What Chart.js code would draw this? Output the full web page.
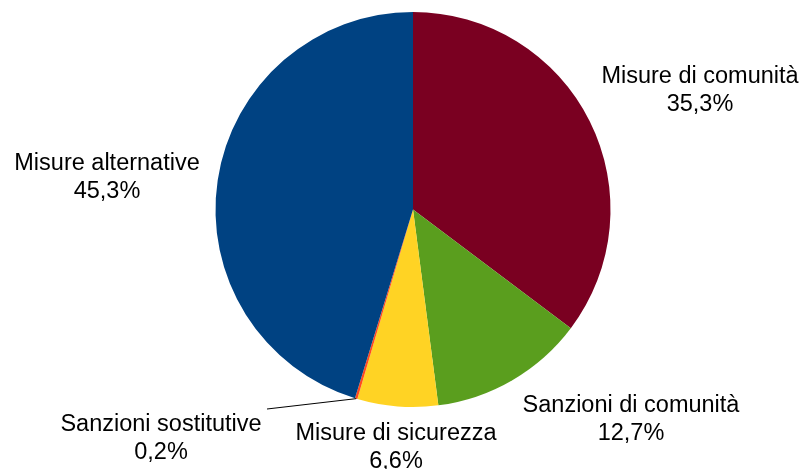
<!DOCTYPE html>
<html>
<head>
<meta charset="utf-8">
<script src="https://cdn.jsdelivr.net/npm/chart.js@4/dist/chart.umd.min.js"></script>
<style>
  html, body { margin: 0; padding: 0; background: #fff; }
  #wrap { width: 806px; height: 469px; }
</style>
</head>
<body>
<div id="wrap"><canvas id="pie"></canvas></div>
<script>
// Data
const categories = ['Misure di comunità', 'Sanzioni di comunità', 'Misure di sicurezza', 'Sanzioni sostitutive', 'Misure alternative'];
const values = [35.3, 12.7, 6.6, 0.2, 45.3];
const valueLabels = ['35,3%', '12,7%', '6,6%', '0,2%', '45,3%'];
const colors = ['#7a0021', '#5a9e1e', '#ffd324', '#ff4a1f', '#004282'];

// label anchors: centre x, first baseline y
const labelPos = [
    { x: 700, y: 83 },
    { x: 631, y: 412 },
    { x: 396, y: 440 },
    { x: 161, y: 431, leader: { x: 267, y: 409 } },
    { x: 107, y: 170 }
];

const outsideLabels = {
    id: 'outsideLabels',
    afterDraw(chart) {
        const ctx = chart.ctx;
        const arcs = chart.getDatasetMeta(0).data;
        ctx.save();
        ctx.font = '23.5px "Liberation Sans", Arial, sans-serif';
        ctx.fillStyle = '#000';
        ctx.textAlign = 'center';
        ctx.textBaseline = 'alphabetic';
        labelPos.forEach((p, i) => {
            ctx.fillText(categories[i], p.x, p.y);
            ctx.fillText(valueLabels[i], p.x, p.y + 28);
            if (p.leader) {
                const a = arcs[i];
                const mid = (a.startAngle + a.endAngle) / 2;
                ctx.beginPath();
                ctx.strokeStyle = '#000';
                ctx.lineWidth = 1;
                ctx.moveTo(p.leader.x, p.leader.y);
                ctx.lineTo(a.x + Math.cos(mid) * a.outerRadius, a.y + Math.sin(mid) * a.outerRadius);
                ctx.stroke();
            }
        });
        ctx.restore();
    }
};

new Chart(document.getElementById('pie'), {
    type: 'pie',
    data: {
        labels: categories,
        datasets: [{
            data: values,
            backgroundColor: colors,
            borderWidth: 0
        }]
    },
    options: {
        responsive: true,
        maintainAspectRatio: false,
        animation: false,
        layout: {
            padding: { top: 12, bottom: 62, left: 215.5, right: 195.5 }
        },
        plugins: {
            legend: { display: false },
            tooltip: { enabled: false }
        }
    },
    plugins: [outsideLabels]
});
</script>
</body>
</html>
